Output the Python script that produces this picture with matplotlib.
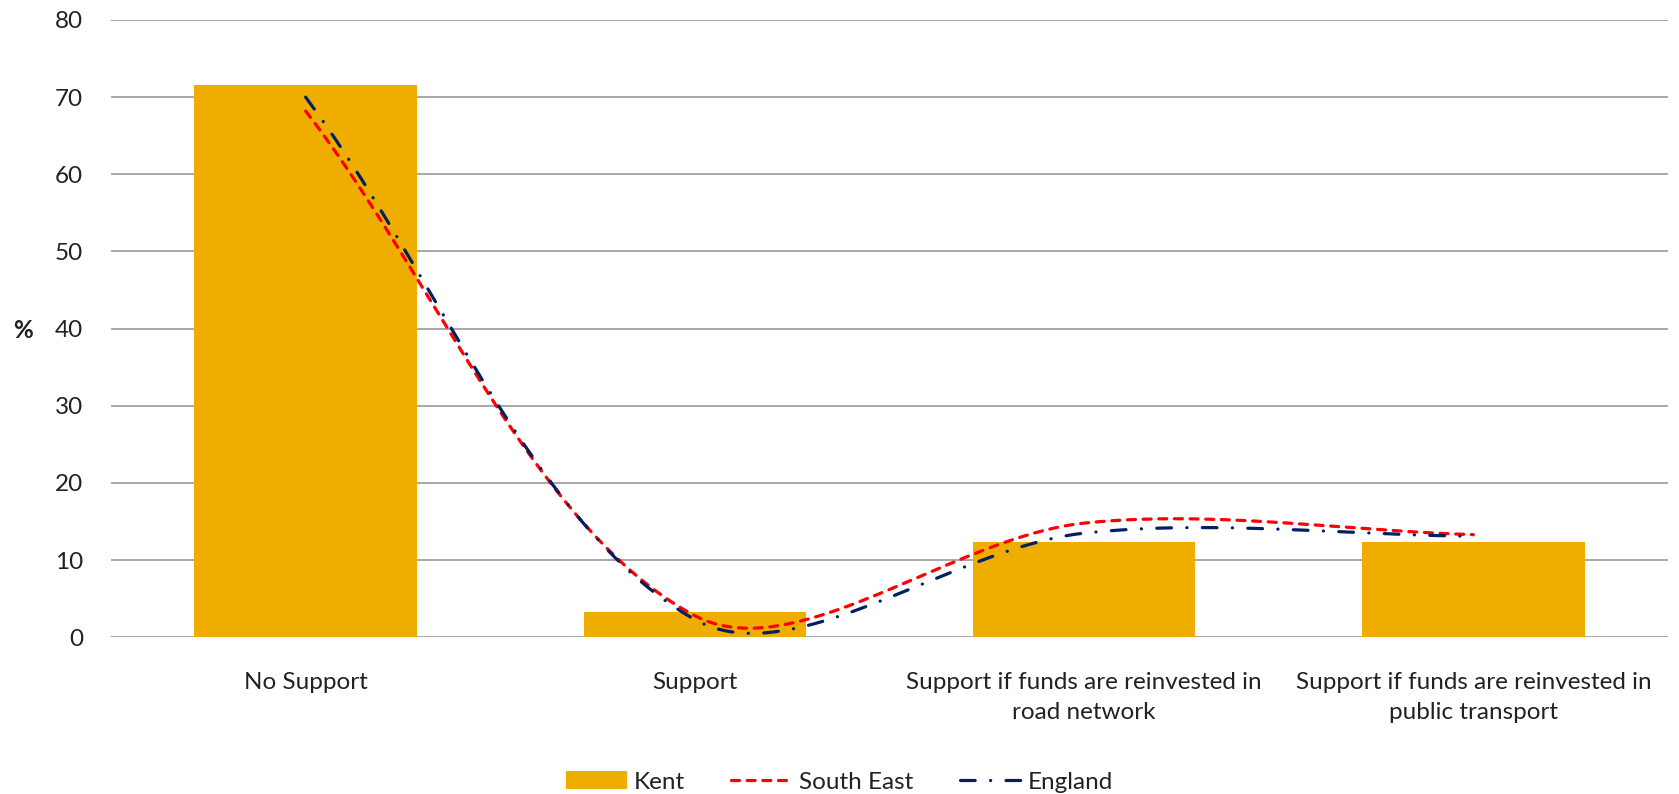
import numpy as np
import matplotlib
matplotlib.use("Agg")
import matplotlib.pyplot as plt
from matplotlib.patches import Patch
from matplotlib.lines import Line2D

categories = ["No Support", "Support",
              "Support if funds are reinvested in\nroad network",
              "Support if funds are reinvested in\npublic transport"]
kent = [71.6, 3.3, 12.4, 12.4]
south_east = [68.2, 2.8, 14.8, 13.3]
england = [70.0, 2.3, 13.5, 13.1]
y_ticks = [0, 10, 20, 30, 40, 50, 60, 70, 80]

BAR = "#EFAD00"
RED = "#FF0000"
NAVY = "#002060"
TXT = "#222222"
FONT = "Lato"
FS = 17.5


def excel_smooth(ax, xs, ys, n=80):
    # bezier smoothing done in screen space, like the spreadsheet's "smoothed line"
    pts = ax.transData.transform(np.column_stack([xs, ys]))
    out = [pts[0]]
    t = np.linspace(0, 1, n)[1:, None]
    for i in range(len(pts) - 1):
        p0 = pts[i - 1] if i > 0 else pts[i]
        p1 = pts[i]
        p2 = pts[i + 1]
        p3 = pts[i + 2] if i + 2 < len(pts) else pts[i + 1]
        d01 = np.linalg.norm(p1 - p0)
        d12 = np.linalg.norm(p2 - p1)
        d23 = np.linalg.norm(p3 - p2)
        c1 = p1 + (p2 - p0) * d12 / (d01 + d12) / 3
        c2 = p2 - (p3 - p1) * d12 / (d12 + d23) / 3
        seg = ((1 - t) ** 3 * p1 + 3 * (1 - t) ** 2 * t * c1
               + 3 * (1 - t) * t ** 2 * c2 + t ** 3 * p2)
        out.extend(seg)
    out = ax.transData.inverted().transform(np.array(out))
    return out[:, 0], out[:, 1]


fig = plt.figure(figsize=(16.79, 7.94), dpi=100)
ax = fig.add_axes([111 / 1679, 1 - 637.3 / 794, 1557 / 1679, 617.3 / 794])
x = np.arange(len(categories))
ax.set_xlim(-0.5, len(categories) - 0.5)
ax.set_ylim(0, 80)

ax.bar(x, kent, width=0.572, color=BAR, zorder=2)

lw = 2.3
red_ls = (0, (2.5, 2.4))
navy_ls = (0, (4.6, 4.8, 0.05, 4.8))
sx, sy = excel_smooth(ax, x, south_east)
ax.plot(sx, sy, color=RED, lw=lw, linestyle=red_ls,
        dash_capstyle="round", zorder=3)
ex, ey = excel_smooth(ax, x, england)
ax.plot(ex, ey, color=NAVY, lw=lw, linestyle=navy_ls,
        dash_capstyle="round", zorder=3)

ax.set_yticks(y_ticks)
ax.set_xticks(x)
ax.set_xticklabels(categories, fontsize=FS, family=FONT, color=TXT, linespacing=1.55)
ax.tick_params(axis="x", length=0, pad=25)
ax.tick_params(axis="y", length=0, pad=20, labelsize=FS, labelcolor=TXT)
for lab in ax.get_yticklabels():
    lab.set_family(FONT)
ax.grid(axis="y", color="#A0A0A0", lw=1.3, zorder=0)
ax.set_axisbelow(True)
for s in ax.spines.values():
    s.set_visible(False)

fig.text(23 / 1679, 1 - 330 / 794, "%", fontsize=FS, fontweight="bold",
         family=FONT, color=TXT, ha="center", va="center")

handles = [Patch(facecolor=BAR, label="Kent"),
           Line2D([], [], color=RED, lw=lw, linestyle=red_ls,
                  dash_capstyle="round", label="South East"),
           Line2D([], [], color=NAVY, lw=lw, linestyle=navy_ls,
                  dash_capstyle="round", label="England")]
fig.legend(handles=handles, loc="center", bbox_to_anchor=(0.5, 12 / 794), ncol=3,
           frameon=False, prop={"family": FONT, "size": FS}, handlelength=2.5,
           handleheight=0.7, handletextpad=0.3, columnspacing=1.9,
           labelcolor=TXT)

fig.savefig("out.png", dpi=100)
